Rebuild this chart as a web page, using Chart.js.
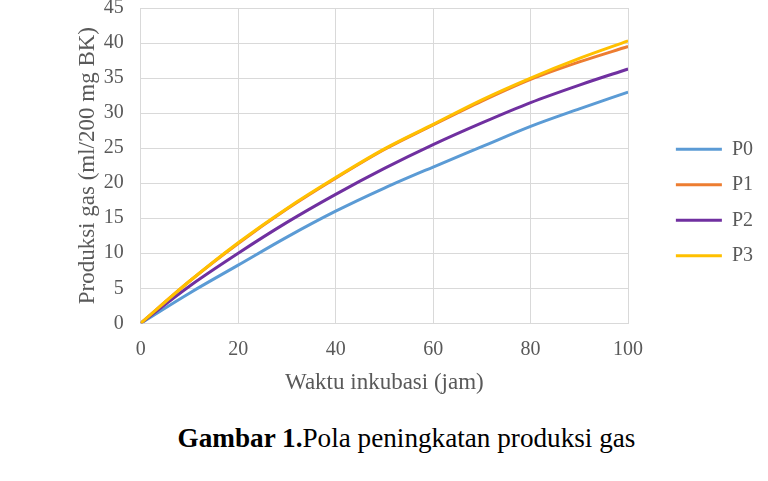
<!DOCTYPE html>
<html>
<head>
<meta charset="utf-8">
<script src="https://cdn.jsdelivr.net/npm/chart.js@4"></script>
<style>
  html, body { margin: 0; padding: 0; background: #ffffff; }
  #wrap { position: relative; width: 768px; height: 481px; overflow: hidden; }
  #box { position: absolute; left: 0; top: 0; width: 768px; height: 405px; }
  #caption {
    position: absolute; left: 0; width: 813px; top: 424px;
    text-align: center; font-family: "Liberation Serif", "Times New Roman", serif;
    font-size: 27.2px; line-height: 28px; color: #000; white-space: nowrap;
  }
</style>
</head>
<body>
<div id="wrap">
  <div id="box"><canvas id="c"></canvas></div>
  <div id="caption"><b>Gambar 1.</b>Pola peningkatan produksi gas</div>
</div>
<script>
// Time (jam)
const hours = [0, 10, 20, 30, 40, 50, 60, 70, 80, 90, 100];
// Gas production (ml/200 mg BK)
const P0 = [0, 4.3, 8.3, 12.3, 16.0, 19.3, 22.3, 25.2, 28.1, 30.6, 33.0];
const P1 = [0, 6.0, 11.4, 16.3, 20.7, 24.8, 28.3, 31.7, 34.8, 37.3, 39.5];
const P2 = [0, 5.3, 10.0, 14.4, 18.4, 22.1, 25.5, 28.6, 31.5, 34.0, 36.3];
const P3 = [0, 6.0, 11.5, 16.4, 20.8, 24.9, 28.4, 31.9, 35.0, 37.8, 40.3];
const seriesNames = ["P0", "P1", "P2", "P3"];
const seriesColors = ["#5B9BD5", "#ED7D31", "#7030A0", "#FFC000"];
const yTicks = [0, 5, 10, 15, 20, 25, 30, 35, 40, 45];
const xTicks = [0, 20, 40, 60, 80, 100];

const serif = "'Liberation Serif', 'Times New Roman', serif";
const gray = "#595959";
const gridCol = "#d9d9d9";

const allSeries = [P0, P1, P2, P3];
const datasets = allSeries.map((vals, i) => ({
  label: seriesNames[i],
  data: hours.map((h, j) => ({ x: h, y: vals[j] })),
  borderColor: seriesColors[i],
  backgroundColor: seriesColors[i],
  borderWidth: 3,
  pointRadius: 0,
  pointHoverRadius: 0,
  cubicInterpolationMode: "monotone",
  fill: false,
  order: allSeries.length - i
}));

new Chart(document.getElementById("c"), {
  type: "line",
  data: { datasets },
  options: {
    responsive: true,
    maintainAspectRatio: false,
    animation: false,
    layout: { padding: { top: 0, right: 5, bottom: 0, left: 74 } },
    plugins: {
      tooltip: { enabled: false },
      legend: {
        position: "right",
        labels: {
          boxWidth: 46,
          boxHeight: 3,
          padding: 15.5,
          color: gray,
          font: { family: serif, size: 20 },
          sort: (a, b) => a.datasetIndex - b.datasetIndex,
          generateLabels: (chart) =>
            Chart.defaults.plugins.legend.labels.generateLabels(chart).map(l => Object.assign(l, { lineWidth: 0 }))
        }
      }
    },
    scales: {
      x: {
        type: "linear",
        min: 0, max: 100,
        afterBuildTicks: (s) => { s.ticks = xTicks.map(v => ({ value: v })); },
        afterFit: (s) => { s.height = 81.7; },
        grid: { color: gridCol, lineWidth: 1, drawTicks: false },
        border: { color: gridCol, width: 1 },
        ticks: { color: gray, font: { family: serif, size: 20 }, padding: 14, maxRotation: 0 },
        title: { display: true, text: "Waktu inkubasi (jam)", color: gray,
                 font: { family: serif, size: 23 }, padding: { top: 9, bottom: 7.8 } }
      },
      y: {
        type: "linear",
        min: 0, max: 45,
        afterBuildTicks: (s) => { s.ticks = yTicks.map(v => ({ value: v })); },
        afterFit: (s) => { s.width = 66.7; s.paddingTop = 8; s.paddingBottom = 8; },
        grid: { color: gridCol, lineWidth: 1, drawTicks: false },
        border: { color: gridCol, width: 1 },
        ticks: { color: gray, font: { family: serif, size: 20 }, padding: 17 },
        title: { display: true, text: "Produksi gas (ml/200 mg BK)", color: gray,
                 font: { family: serif, size: 23 }, padding: { top: 0, bottom: 3 } }
      },
      gap: {
        type: "linear",
        position: "right",
        display: true,
        grid: { display: false, drawTicks: false },
        border: { display: false },
        ticks: { display: false },
        afterFit: (s) => { s.width = 32.3; }
      }
    }
  }
});
</script>
</body>
</html>
